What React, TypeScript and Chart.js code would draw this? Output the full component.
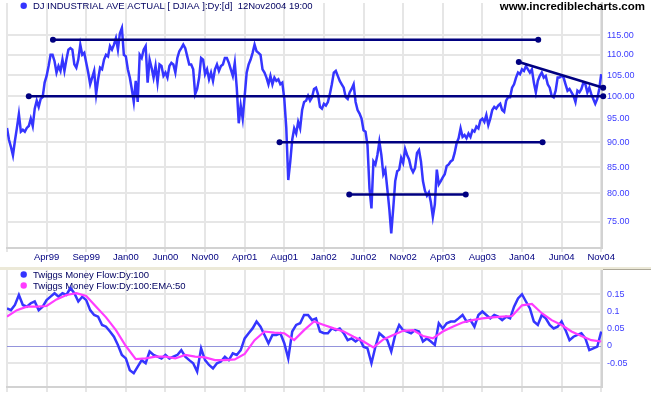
import React, { useEffect, useRef } from 'react';
import { Chart, registerables } from 'chart.js';

Chart.register(...registerables);

const FONT = "'Liberation Sans', Arial, Helvetica, sans-serif";

// ---- x axis (trading-bar index) ----
const xMaxBar = 1502;
const xTickBars = [0, 100, 200, 300, 400, 500, 600, 700, 800, 900, 1000, 1100, 1200, 1300, 1400, 1500];
const xTickLabels = ['', 'Apr99', 'Sep99', 'Jan00', 'Jun00', 'Nov00', 'Apr01', 'Aug01', 'Jan02', 'Jun02', 'Nov02', 'Apr03', 'Aug03', 'Jan04', 'Jun04', 'Nov04'];

// ---- y axes ----
const priceTicks = [75, 80, 85, 90, 95, 100, 105, 110, 115];
const priceMin = 70.58;
const priceMax = 123.9;
const tmfTicks = [-0.05, 0, 0.05, 0.1, 0.15];
const tmfTickLabels = ['-0.05', '0', '0.05', '0.1', '0.15'];
const tmfMin = -0.1188;
const tmfMax = 0.2203;

// ---- series (sampled every N bars) ----
const priceBarStep = 5;
const tmfBarStep = 10;
const emaBarStep = 25;

const djia = [
  93.0, 90.5, 89.0, 87.3, 90.3, 93.0, 96.0, 92.2, 92.6, 92.2,
  93.0, 93.4, 95.0, 93.4, 97.2, 99.0, 97.6, 99.4, 99.8, 103.2,
  104.8, 107.2, 110.0, 110.0, 108.4, 105.6, 107.2, 106.0, 108.8, 106.0,
  108.8, 111.3, 111.7, 111.3, 107.6, 106.8, 108.8, 112.6, 110.0, 110.5,
  108.0, 105.6, 102.8, 104.4, 106.0, 100.5, 104.0, 106.8, 106.4, 108.8,
  110.0, 109.6, 112.2, 111.3, 112.6, 114.3, 111.3, 115.6, 117.0, 110.0,
  109.6, 106.4, 104.4, 101.7, 98.7, 103.6, 98.7, 110.0, 109.2, 111.3,
  112.2, 103.2, 108.8, 106.8, 104.4, 107.2, 103.2, 107.6, 107.2, 104.8,
  105.6, 104.4, 107.2, 108.0, 107.6, 105.6, 109.2, 110.9, 111.7, 112.6,
  111.7, 109.6, 107.6, 107.6, 106.4, 100.5, 101.7, 104.4, 109.2, 108.8,
  105.2, 106.4, 104.0, 105.6, 103.6, 106.4, 107.6, 106.0, 107.2, 107.6,
  109.2, 109.2, 108.0, 106.4, 104.8, 108.0, 102.0, 94.0, 97.9, 95.0,
  100.1, 105.6, 107.6, 108.8, 110.5, 112.6, 110.9, 110.5, 110.0, 106.4,
  105.6, 104.4, 102.8, 104.8, 102.8, 104.4, 103.6, 104.0, 102.8, 103.2,
  99.4, 93.0, 82.5, 86.0, 90.5, 92.9, 91.8, 94.3, 92.9, 96.9,
  98.7, 99.0, 100.1, 99.0, 99.8, 101.7, 102.0, 100.5, 97.6, 97.2,
  98.3, 97.9, 98.7, 100.5, 102.8, 105.6, 106.0, 104.8, 103.6, 102.8,
  102.0, 99.8, 99.4, 100.9, 101.7, 102.8, 98.7, 96.9, 96.1, 95.0,
  92.5, 92.2, 89.4, 81.0, 77.3, 86.1, 85.5, 87.4, 90.1, 87.4,
  83.6, 84.5, 80.9, 77.3, 73.0, 77.3, 82.3, 84.2, 84.5, 86.8,
  85.8, 88.6, 87.4, 86.5, 84.8, 84.0, 84.8, 87.8, 88.4, 86.1,
  82.3, 80.5, 79.6, 80.2, 78.4, 75.8, 78.0, 84.5, 81.7, 82.3,
  83.0, 83.6, 85.2, 85.5, 86.1, 86.4, 87.8, 89.8, 90.8, 92.9,
  91.1, 91.5, 90.8, 91.8, 91.1, 92.5, 92.2, 93.3, 92.9, 94.6,
  95.0, 94.3, 95.8, 93.6, 95.0, 96.9, 97.6, 97.2, 97.9, 98.3,
  96.9, 96.5, 99.0, 99.8, 99.8, 102.0, 102.8, 104.4, 105.6, 105.2,
  106.4, 106.0, 107.2, 106.4, 105.6, 106.4, 103.2, 100.9, 103.6, 104.8,
  105.6, 104.4, 104.8, 102.8, 102.0, 100.1, 99.8, 101.3, 104.4, 104.4,
  104.8, 104.4, 102.8, 101.3, 101.7, 100.9, 100.1, 98.7, 101.3, 100.9,
  101.7, 103.2, 102.8, 100.9, 102.0, 100.5, 99.4, 98.3, 99.4, 101.7,
  105.2,
];

const tmf = [
  0.109, 0.104, 0.119, 0.148, 0.119, 0.114, 0.124, 0.129, 0.104, 0.114,
  0.133, 0.143, 0.153, 0.143, 0.153, 0.148, 0.168, 0.153, 0.129, 0.143,
  0.133, 0.104, 0.090, 0.085, 0.061, 0.056, 0.042, 0.027, 0.003, -0.026,
  -0.036, -0.070, -0.079, -0.060, -0.041, -0.050, -0.016, -0.026, -0.031, -0.036,
  -0.026, -0.036, -0.031, -0.026, -0.012, -0.031, -0.041, -0.050, -0.074, -0.007,
  -0.041, -0.055, -0.065, -0.050, -0.045, -0.031, -0.041, -0.021, -0.026, -0.012,
  0.022, 0.037, 0.051, 0.071, 0.056, 0.032, 0.008, 0.032, 0.032, 0.037,
  0.008, -0.036, 0.042, 0.061, 0.066, 0.090, 0.090, 0.075, 0.080, 0.042,
  0.037, 0.037, 0.051, 0.046, 0.051, 0.037, 0.017, 0.022, 0.013, 0.022,
  -0.002, -0.007, -0.050, -0.002, 0.037, 0.027, 0.017, -0.016, 0.032, 0.061,
  0.046, 0.042, 0.037, 0.046, 0.042, 0.013, 0.022, 0.013, 0.003, 0.066,
  0.051, 0.066, 0.071, 0.071, 0.080, 0.090, 0.071, 0.075, 0.056, 0.090,
  0.100, 0.090, 0.080, 0.090, 0.085, 0.075, 0.085, 0.080, 0.114, 0.138,
  0.150, 0.129, 0.109, 0.071, 0.061, 0.090, 0.080, 0.061, 0.051, 0.056,
  0.071, 0.046, 0.017, 0.027, 0.032, 0.037, 0.022, -0.012, -0.007, -0.002,
  0.042,
];

const tmfEma = [
  0.085, 0.104, 0.114, 0.114, 0.116, 0.135, 0.148, 0.153, 0.145, 0.114,
  0.083, 0.046, 0.000, -0.038, -0.036, -0.031, -0.031, -0.036, -0.026, -0.031,
  -0.033, -0.041, -0.041, -0.039, -0.023, 0.017, 0.042, 0.039, 0.037, 0.017,
  0.046, 0.071, 0.061, 0.051, 0.042, 0.027, 0.013, -0.004, 0.019, 0.032,
  0.044, 0.046, 0.029, 0.022, 0.042, 0.056, 0.068, 0.075, 0.080, 0.083,
  0.085, 0.087, 0.118, 0.122, 0.095, 0.075, 0.061, 0.042, 0.029, 0.017,
  0.013,
];

// ---- drawn trend lines (bar index, price) ----
const trendFromBar = [116, 55, 688, 864, 1292];
const trendToBar = [1341, 1505, 1352, 1158, 1505];
const trendFromValue = [113.9, 100, 90, 79.8, 108.2];
const trendToValue = [113.9, 100, 90, 79.8, 102.0];

const titleText = 'DJ INDUSTRIAL AVE ACTUAL [ DJIAA ]:Dy:[d]  12Nov2004 19:00';
const siteText = 'www.incrediblecharts.com';
const legendTexts = ['Twiggs Money Flow:Dy:100', 'Twiggs Money Flow:Dy:100:EMA:50'];

const blue = '#3535ff';
const magenta = '#ff3cff';
const navy = '#000080';
const gridColor = '#e6e6e6';
const axisColor = '#d2d2d2';

function makeX(showLabels: boolean) {
  return {
    type: 'linear' as const,
    min: 0,
    max: xMaxBar,
    bounds: 'data' as const,
    afterBuildTicks: (s: any) => {
      s.ticks = xTickBars.map((v) => ({ value: v }));
    },
    afterFit: (s: any) => {
      s.height = showLabels ? 19 : 8;
      s.paddingLeft = 0;
      s.paddingRight = 0;
    },
    grid: { color: gridColor, lineWidth: 2, drawTicks: true, tickLength: showLabels ? 4 : 5, tickColor: gridColor },
    border: { display: true, color: axisColor, width: 2 },
    ticks: {
      display: showLabels,
      autoSkip: false,
      maxRotation: 0,
      minRotation: 0,
      padding: 0,
      color: navy,
      font: { size: 9.5, family: FONT },
      callback: (v: any) => {
        const i = xTickBars.indexOf(Number(v));
        return i >= 0 ? xTickLabels[i] : '';
      },
    },
  };
}

export default function App() {
  const topRef = useRef<HTMLCanvasElement | null>(null);
  const botRef = useRef<HTMLCanvasElement | null>(null);

  useEffect(() => {
    Chart.defaults.font.family = FONT;

    const topText = {
      id: 'topText',
      afterDraw(chart: any) {
        const c = chart.ctx;
        c.save();
        c.fillStyle = blue;
        c.beginPath();
        c.arc(23.7, 5.8, 3.2, 0, Math.PI * 2);
        c.fill();
        c.font = `9.5px ${FONT}`;
        c.fillStyle = '#000060';
        c.textBaseline = 'middle';
        c.textAlign = 'left';
        c.fillText(titleText, 33, 6.5);
        c.font = `bold 11.5px ${FONT}`;
        c.fillStyle = '#000000';
        c.textAlign = 'right';
        c.fillText(siteText, 645, 7);
        c.restore();
      },
    };

    const botText = {
      id: 'botText',
      beforeDatasetsDraw(chart: any) {
        const c = chart.ctx;
        c.save();
        const cols = [blue, magenta];
        const ys = [4.5, 15.5];
        for (let i = 0; i < 2; i++) {
          c.fillStyle = cols[i];
          c.beginPath();
          c.arc(23.7, ys[i], 3.2, 0, Math.PI * 2);
          c.fill();
          c.font = `9.5px ${FONT}`;
          c.fillStyle = '#000060';
          c.textBaseline = 'middle';
          c.textAlign = 'left';
          c.fillText(legendTexts[i], 33, ys[i] + 0.5);
        }
        c.restore();
      },
    };

    const top = new Chart(topRef.current as HTMLCanvasElement, {
      type: 'line',
      data: {
        datasets: [
          ...trendFromBar.map((b, i) => ({
            data: [
              { x: b, y: trendFromValue[i] },
              { x: trendToBar[i], y: trendToValue[i] },
            ],
            borderColor: navy,
            backgroundColor: navy,
            borderWidth: 2.5,
            pointRadius: 3,
            pointHoverRadius: 3,
            pointBackgroundColor: navy,
            pointBorderWidth: 0,
            clip: false as any,
            fill: false,
            order: 0,
          })),
          {
            data: djia.map((v, i) => ({ x: i * priceBarStep, y: v })),
            borderColor: blue,
            borderWidth: 2.5,
            pointRadius: 0,
            fill: false,
            order: 1,
          },
        ],
      },
      options: {
        responsive: false,
        animation: false,
        devicePixelRatio: 1,
        events: [],
        layout: { padding: { left: 7, right: 0, top: 0, bottom: 0 } },
        scales: {
          x: makeX(true) as any,
          y: {
            type: 'logarithmic',
            position: 'right',
            min: priceMin,
            max: priceMax,
            bounds: 'data',
            afterBuildTicks: (s: any) => {
              s.ticks = priceTicks.map((v) => ({ value: v }));
            },
            afterFit: (s: any) => {
              s.width = 49;
              s.paddingTop = 0;
              s.paddingBottom = 0;
            },
            grid: { color: gridColor, lineWidth: 2, drawTicks: false },
            border: { display: true, color: axisColor, width: 2 },
            ticks: {
              color: '#3c3cff',
              padding: 5,
              font: { size: 9, family: FONT },
              callback: (v: any) => Number(v).toFixed(2),
            },
          } as any,
        },
        plugins: { legend: { display: false }, tooltip: { enabled: false } },
      },
      plugins: [topText],
    });

    const bot = new Chart(botRef.current as HTMLCanvasElement, {
      type: 'line',
      data: {
        datasets: [
          {
            data: tmfEma.map((v, i) => ({ x: i * emaBarStep, y: v })),
            borderColor: magenta,
            borderWidth: 2.2,
            pointRadius: 0,
            fill: false,
            order: 0,
          },
          {
            data: tmf.map((v, i) => ({ x: i * tmfBarStep, y: v })),
            borderColor: blue,
            borderWidth: 2.5,
            pointRadius: 0,
            fill: false,
            order: 1,
          },
        ],
      },
      options: {
        responsive: false,
        animation: false,
        devicePixelRatio: 1,
        events: [],
        layout: { padding: { left: 7, right: 0, top: 0, bottom: 0 } },
        scales: {
          x: makeX(false) as any,
          y: {
            type: 'linear',
            position: 'right',
            min: tmfMin,
            max: tmfMax,
            bounds: 'data',
            afterBuildTicks: (s: any) => {
              s.ticks = tmfTicks.map((v) => ({ value: v }));
            },
            afterFit: (s: any) => {
              s.width = 49;
              s.paddingTop = 0;
              s.paddingBottom = 0;
            },
            grid: {
              color: (ctx: any) => (ctx.tick && ctx.tick.value === 0 ? '#9494dc' : gridColor),
              lineWidth: (ctx: any) => (ctx.tick && ctx.tick.value === 0 ? 1 : 2),
              drawTicks: false,
            },
            border: { display: true, color: axisColor, width: 2 },
            ticks: {
              color: '#3c3cff',
              padding: 5,
              font: { size: 9, family: FONT },
              callback: (v: any) => {
                const i = tmfTicks.indexOf(Number(v));
                return i >= 0 ? tmfTickLabels[i] : '';
              },
            },
          } as any,
        },
        plugins: { legend: { display: false }, tooltip: { enabled: false } },
      },
      plugins: [botText],
    });

    return () => {
      top.destroy();
      bot.destroy();
    };
  }, []);

  return (
    <div style={{ position: 'absolute', left: 0, top: 0, width: 651, height: 395, background: '#ffffff', overflow: 'hidden' }}>
      <canvas ref={topRef} width={651} height={267} style={{ position: 'absolute', left: 0, top: 0, display: 'block' }} />
      <div style={{ position: 'absolute', left: 0, top: 267, width: 651, height: 3, background: '#ece9d8' }} />
      <div style={{ position: 'absolute', left: 603, top: 269, width: 48, height: 1, background: '#aca899' }} />
      <canvas ref={botRef} width={651} height={125} style={{ position: 'absolute', left: 0, top: 270, display: 'block' }} />
    </div>
  );
}
